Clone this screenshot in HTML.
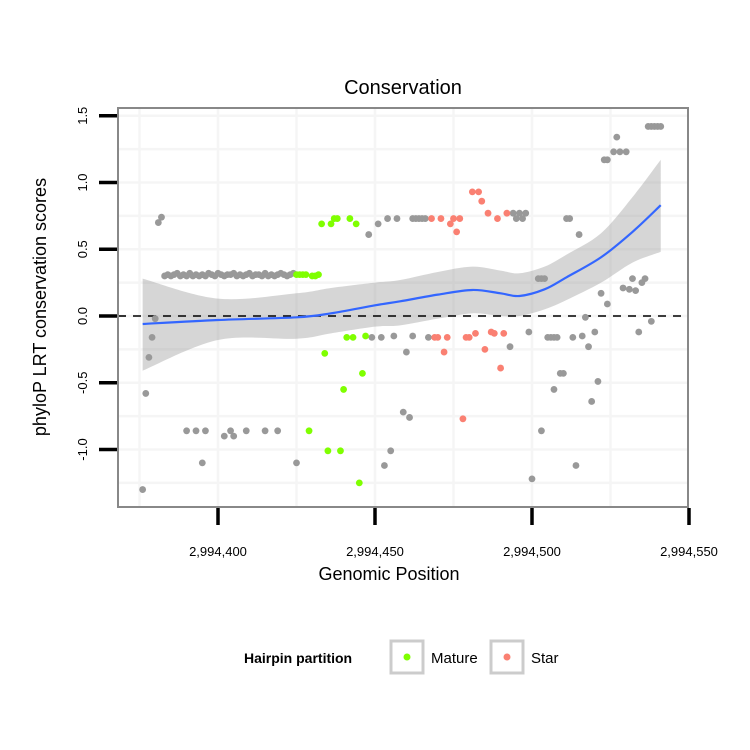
<!DOCTYPE html>
<html><head><meta charset="utf-8"><style>
body{margin:0;background:#fff;}
svg{display:block;font-family:"Liberation Sans",Arial,sans-serif;}
</style></head><body>
<svg id="chart" width="750" height="750" viewBox="0 0 750 750">
<rect x="0" y="0" width="750" height="750" fill="#fff"/>
<text x="403" y="94" font-size="20" text-anchor="middle">Conservation</text>
<g id="grid"></g>
<g id="ribbon"></g>
<line id="zero" stroke="#000" stroke-width="1.6" stroke-dasharray="8,7"/>
<g id="points"></g>
<g id="smooth"></g>
<rect x="118" y="108" width="570" height="399" fill="none" stroke="#888" stroke-width="2"/>
<g id="xaxis"></g>
<g id="yaxis"></g>
<text x="389" y="580" font-size="18" text-anchor="middle">Genomic Position</text>
<text transform="translate(46,307) rotate(-90)" font-size="18" text-anchor="middle">phyloP LRT conservation scores</text>
<g>
<text x="244" y="663" font-size="14" font-weight="bold">Hairpin partition</text>
<g>
<rect x="391" y="641" width="32" height="32" fill="#fff" stroke="#ccc" stroke-width="3"/>
<circle cx="407" cy="657" r="3.5" fill="#7FFF00"/>
<text x="431" y="663" font-size="15">Mature</text></g>
<g>
<rect x="491" y="641" width="32" height="32" fill="#fff" stroke="#ccc" stroke-width="3"/>
<circle cx="507" cy="657" r="3.5" fill="#FA8072"/>
<text x="531" y="663" font-size="15">Star</text></g>
</g>
</svg>
<script>
const xTicks=[2994400,2994450,2994500,2994550];
const xTickLabels=["2,994,400","2,994,450","2,994,500","2,994,550"];
const yTicks=[-1.0,-0.5,0.0,0.5,1.0,1.5];
const yTickLabels=["-1.0","-0.5","0.0","0.5","1.0","1.5"];
const grayX=[2994376,2994377,2994378,2994379,2994380,2994381,2994382,
2994383,2994384,2994385,2994386,2994387,2994388,2994389,2994390,2994391,2994392,2994393,2994394,2994395,2994396,2994397,2994398,2994399,2994400,2994401,2994402,2994403,2994404,2994405,2994406,2994407,2994408,2994409,2994410,2994411,2994412,2994413,2994414,2994415,2994416,2994417,2994418,2994419,2994420,2994421,2994422,2994423,2994424,
2994390,2994393,2994396,2994402,2994405,2994404,2994409,2994415,2994419,2994395,2994425,
2994448,2994451,2994454,2994457,2994449,2994452,2994456,2994460,2994459,2994461,2994455,2994453,
2994462,2994463,2994464,2994465,2994466,2994462,2994467,
2994494,2994495,2994496,2994497,2994498,2994511,2994512,2994515,2994502,2994503,2994504,
2994527,2994523,2994524,2994526,2994528,2994530,2994537,2994538,2994539,2994540,2994541,
2994532,2994536,2994535,2994529,2994531,2994533,2994522,2994524,2994517,2994538,
2994534,2994520,2994516,2994513,2994505,2994506,2994507,2994508,2994499,2994518,2994493,
2994509,2994510,2994507,2994521,2994519,2994503,2994514,2994500];
const grayY=[-1.30,-0.58,-0.31,-0.16,-0.02,0.70,0.74,
0.30,0.31,0.30,0.31,0.32,0.30,0.31,0.30,0.32,0.30,0.31,0.30,0.31,0.30,0.32,0.31,0.30,0.32,0.31,0.30,0.31,0.31,0.32,0.30,0.31,0.30,0.31,0.32,0.30,0.31,0.31,0.30,0.32,0.30,0.31,0.30,0.31,0.32,0.31,0.30,0.31,0.32,
-0.86,-0.86,-0.86,-0.90,-0.90,-0.86,-0.86,-0.86,-0.86,-1.10,-1.10,
0.61,0.69,0.73,0.73,-0.16,-0.16,-0.15,-0.27,-0.72,-0.76,-1.01,-1.12,
0.73,0.73,0.73,0.73,0.73,-0.15,-0.16,
0.77,0.73,0.77,0.73,0.77,0.73,0.73,0.61,0.28,0.28,0.28,
1.34,1.17,1.17,1.23,1.23,1.23,1.42,1.42,1.42,1.42,1.42,
0.28,0.28,0.25,0.21,0.20,0.19,0.17,0.09,-0.01,-0.04,
-0.12,-0.12,-0.15,-0.16,-0.16,-0.16,-0.16,-0.16,-0.12,-0.23,-0.23,
-0.43,-0.43,-0.55,-0.49,-0.64,-0.86,-1.12,-1.22];
const matureX=[2994425,2994426,2994427,2994428,2994430,2994431,2994432,2994429,2994433,2994436,2994437,2994438,2994442,2994444,2994434,2994441,2994443,2994447,2994446,2994440,2994435,2994439,2994445];
const matureY=[0.31,0.31,0.31,0.31,0.30,0.30,0.31,-0.86,0.69,0.69,0.73,0.73,0.73,0.69,-0.28,-0.16,-0.16,-0.15,-0.43,-0.55,-1.01,-1.01,-1.25];
const starX=[2994468,2994471,2994474,2994475,2994477,2994476,2994481,2994483,2994484,2994486,2994489,2994492,2994469,2994470,2994473,2994479,2994480,2994482,2994487,2994488,2994491,2994472,2994485,2994490,2994478];
const starY=[0.73,0.73,0.69,0.73,0.73,0.63,0.93,0.93,0.86,0.77,0.73,0.77,-0.16,-0.16,-0.16,-0.16,-0.16,-0.13,-0.12,-0.13,-0.13,-0.27,-0.25,-0.39,-0.77];
const fitX=[2994376,2994400,2994425,2994436,2994450,2994458,2994470,2994481,2994490,2994496,2994504,2994511,2994522,2994532,2994541];
const fitY=[-0.06,-0.03,-0.01,0.02,0.08,0.11,0.16,0.195,0.17,0.15,0.20,0.29,0.44,0.63,0.83];
const fitLo=[-0.41,-0.18,-0.17,-0.13,-0.08,-0.07,-0.02,0.02,0.0,0.0,0.05,0.12,0.25,0.40,0.48];
const fitHi=[0.28,0.13,0.17,0.21,0.25,0.27,0.33,0.37,0.34,0.32,0.37,0.46,0.62,0.89,1.17];

const NS="http://www.w3.org/2000/svg";
const sx=v=>218+(v-2994400)*(157/50);
const sy=v=>316-v*133.5;
function mk(tag,attrs,parent){const e=document.createElementNS(NS,tag);for(const k in attrs)e.setAttribute(k,attrs[k]);parent.appendChild(e);return e;}
function spline(p){let s='';for(let i=0;i<p.length-1;i++){const p0=p[Math.max(i-1,0)],p1=p[i],p2=p[i+1],p3=p[Math.min(i+2,p.length-1)];
const c1=[p1[0]+(p2[0]-p0[0])/6,p1[1]+(p2[1]-p0[1])/6],c2=[p2[0]-(p3[0]-p1[0])/6,p2[1]-(p3[1]-p1[1])/6];
s+=' C'+c1[0]+','+c1[1]+' '+c2[0]+','+c2[1]+' '+p2[0]+','+p2[1];}return s;}
const grid=document.getElementById('grid');
[2994375,2994400,2994425,2994450,2994475,2994500,2994525].forEach(v=>{const l=mk('line',{x1:sx(v),x2:sx(v),y1:108,y2:507,stroke:'#f5f5f5','stroke-width':2.5},grid);

});
[-1.25,-1,-0.75,-0.5,-0.25,0,0.25,0.5,0.75,1,1.25,1.5].forEach(v=>{const l=mk('line',{x1:118,x2:688,y1:sy(v),y2:sy(v),stroke:'#f5f5f5','stroke-width':2.5},grid);

});
const rib=document.getElementById('ribbon');
const hiP=fitX.map((x,i)=>[sx(x),sy(fitHi[i])]);
const loP=fitX.map((x,i)=>[sx(x),sy(fitLo[i])]).reverse();
let d='M'+hiP[0][0]+','+hiP[0][1]+spline(hiP)+' L'+loP[0][0]+','+loP[0][1]+spline(loP)+'Z';
const rp=mk('path',{d:d,fill:'#999','fill-opacity':0.4},rib);


const z=document.getElementById('zero');z.setAttribute('x1',118);z.setAttribute('x2',688);z.setAttribute('y1',sy(0));z.setAttribute('y2',sy(0));
const pts=document.getElementById('points');
function series(xs,ys,col,name){xs.forEach((x,i)=>{const c=mk('circle',{cx:sx(x),cy:sy(ys[i]),r:3.4,fill:col},pts);

});}
series(grayX,grayY,'#999999','point-other');
series(matureX,matureY,'#7FFF00','point-mature');
series(starX,starY,'#FA8072','point-star');
const sm=document.getElementById('smooth');
const fP=fitX.map((x,i)=>[sx(x),sy(fitY[i])]);
const lp=mk('path',{d:'M'+fP[0][0]+','+fP[0][1]+spline(fP),fill:'none',stroke:'#3366FF','stroke-width':2.2,'stroke-linejoin':'round'},sm);


const xa=document.getElementById('xaxis');
xTicks.forEach((v,i)=>{const t=mk('line',{x1:sx(v),x2:sx(v),y1:508,y2:525,stroke:'#000','stroke-width':3.5},xa);


const tx=mk('text',{x:sx(v),y:556,'font-size':13,'text-anchor':'middle'},xa);tx.textContent=xTickLabels[i];

});
const ya=document.getElementById('yaxis');
yTicks.forEach((v,i)=>{const t=mk('line',{x1:99,x2:117,y1:sy(v),y2:sy(v),stroke:'#000','stroke-width':3.5},ya);


const tx=mk('text',{transform:'translate(87,'+sy(v)+') rotate(-90)','font-size':13,'text-anchor':'middle'},ya);tx.textContent=yTickLabels[i];

});
</script>
</body></html>
